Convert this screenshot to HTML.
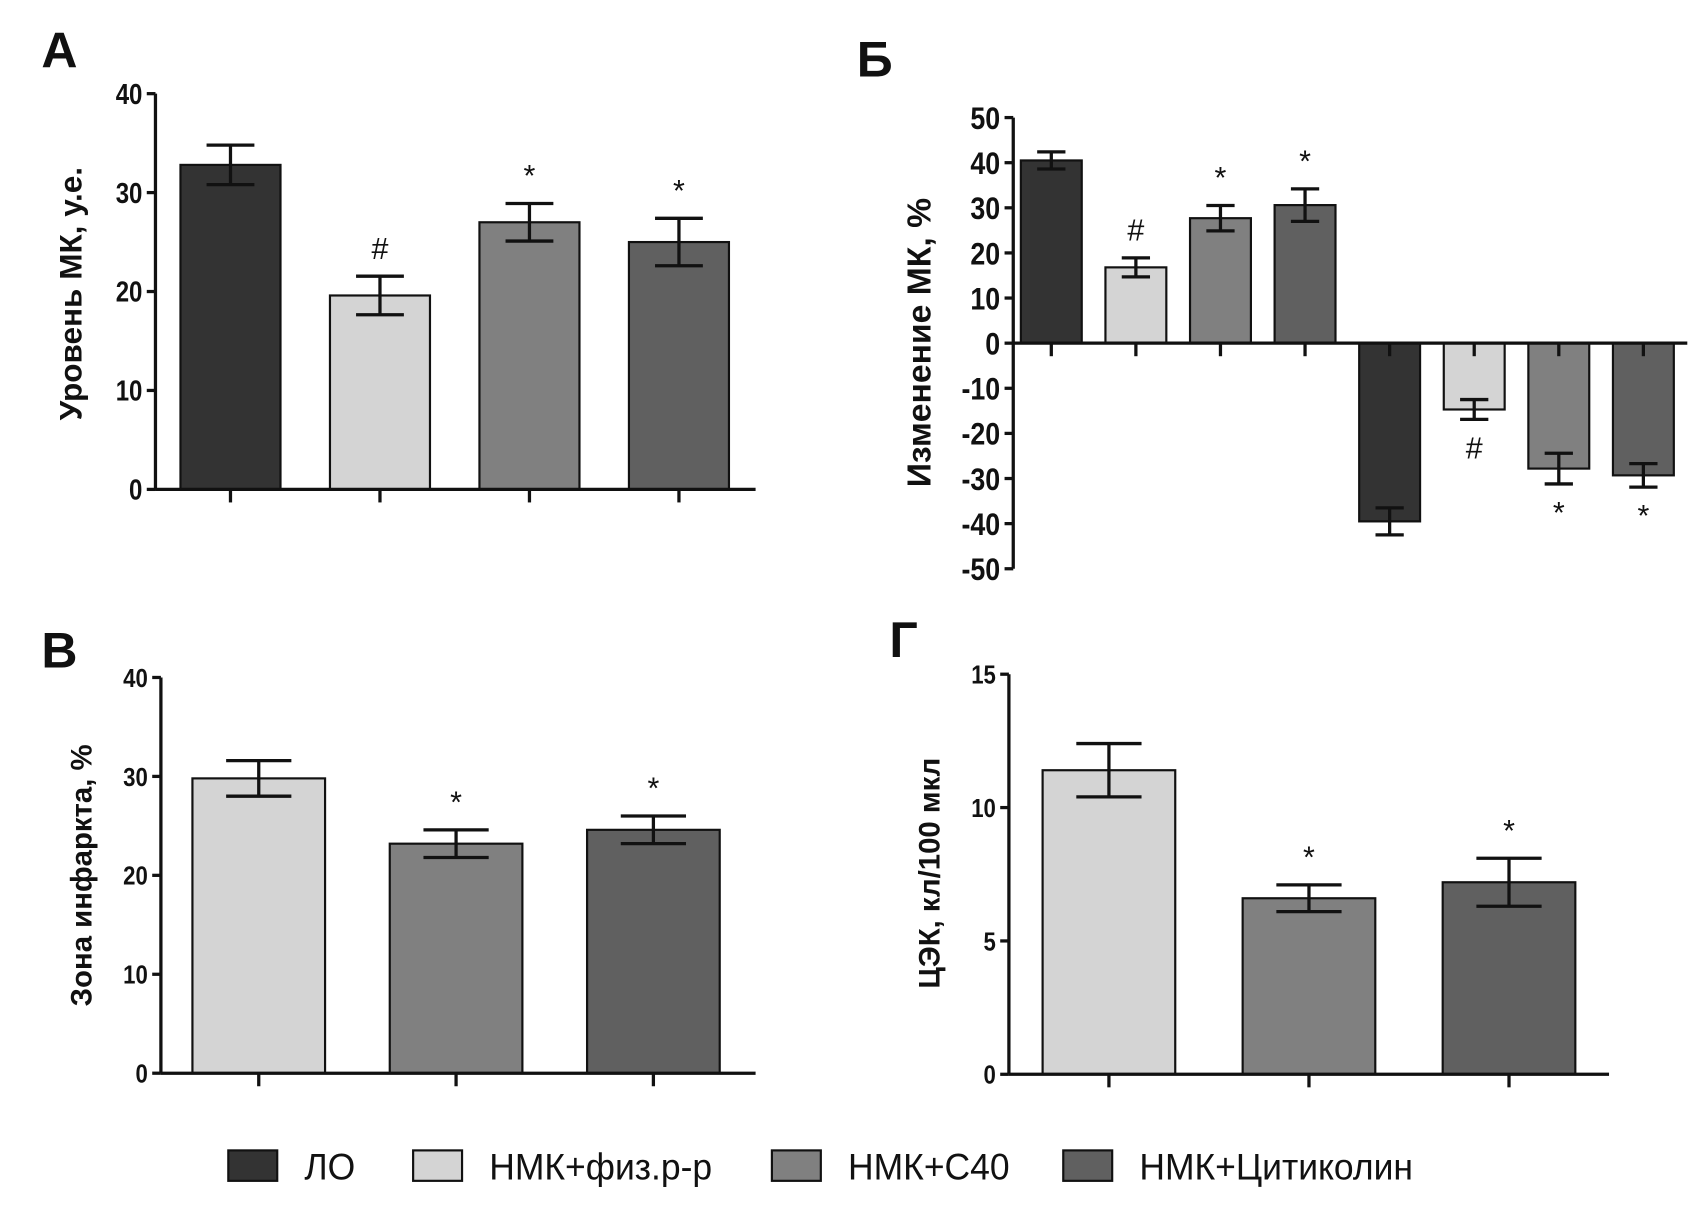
<!DOCTYPE html>
<html><head><meta charset="utf-8"><style>
html,body{margin:0;padding:0;background:#fff}
svg{display:block}
text{font-family:"Liberation Sans",sans-serif;fill:#111}
</style></head><body>
<svg id="fig" width="1696" height="1206" viewBox="0 0 1560 1109" xmlns="http://www.w3.org/2000/svg"></svg>
<script>
const colors = ["#333333","#d4d4d4","#808080","#606060"];
const groupNames = ["ЛО","НМК+физ.р-р","НМК+С40","НМК+Цитиколин"];

const aValues = [32.8, 19.6, 27.0, 25.0];
const aErrors = [2.0, 1.95, 1.9, 2.4];
const aMarks = ["", "#", "*", "*"];
const aTicks = [0, 10, 20, 30, 40];

const bValues = [40.5, 16.8, 27.7, 30.6, -39.5, -14.7, -27.8, -29.3];
const bErrors = [1.9, 2.1, 2.8, 3.6, 3.0, 2.2, 3.4, 2.6];
const bMarks = ["", "#", "*", "*", "", "#", "*", "*"];
const bColorIdx = [0, 1, 2, 3, 0, 1, 2, 3];
const bTicks = [50, 40, 30, 20, 10, 0, -10, -20, -30, -40, -50];

const cValues = [29.8, 23.2, 24.6];
const cErrors = [1.8, 1.4, 1.4];
const cMarks = ["", "*", "*"];
const cColorIdx = [1, 2, 3];
const cTicks = [0, 10, 20, 30, 40];

const dValues = [11.4, 6.6, 7.2];
const dErrors = [1.0, 0.5, 0.9];
const dMarks = ["", "*", "*"];
const dColorIdx = [1, 2, 3];
const dTicks = [0, 5, 10, 15];

const NS = "http://www.w3.org/2000/svg";
const svg = document.getElementById('fig');
function mk(tag, attrs, parent, txt) {
  const e = document.createElementNS(NS, tag);
  for (const k in attrs) e.setAttribute(k, attrs[k]);
  if (txt !== undefined) e.textContent = txt;
  (parent || svg).appendChild(e);
  return e;
}

function panel(o) {
  const g = mk('g', {});
  
  
  const y = v => o.y0 + (v - o.vmin) / (o.vmax - o.vmin) * (o.y1 - o.y0);
  const lab = mk('text', {x: o.lx, y: o.ly, 'font-size': 46, 'font-weight': 'bold'}, g, o.letter);
  
  
  const ya = mk('line', {x1: o.ax, x2: o.ax, y1: y(o.vmax), y2: y(o.vmin), stroke: '#111', 'stroke-width': 3}, g);
  
  
  o.ticks.forEach(t => {
    mk('line', {x1: o.ax - 8, x2: o.ax, y1: y(t), y2: y(t), stroke: '#111', 'stroke-width': 3}, g);
    const tl = mk('text', {x: o.ax - 12, y: y(t) + o.tfs * 0.36, 'font-size': o.tfs, 'font-weight': 'bold', 'text-anchor': 'end', transform: `translate(${o.ax - 12},0) scale(0.85,1) translate(${-(o.ax - 12)},0)`}, g, String(t));
    
    
  });
  const title = mk('text', {x: 0, y: 0, 'font-size': o.titleFs, 'font-weight': 'bold', 'text-anchor': 'middle', transform: `translate(${o.tx},${o.ty}) rotate(-90)`}, g, o.title);
  
  
  o.values.forEach((v, i) => {
    const cx = o.c0 + i * o.step;
    const top = y(Math.max(v, 0)), bot = y(Math.min(v, 0));
    const bar = mk('rect', {x: cx - o.bw / 2, y: top, width: o.bw, height: bot - top, fill: colors[o.cidx[i]], stroke: '#111', 'stroke-width': 2}, g);
    
    
    const e = o.errors[i];
    const eh = y(v + e), el = y(v - e);
    mk('line', {x1: cx, x2: cx, y1: eh, y2: el, stroke: '#111', 'stroke-width': 3}, g);
    mk('line', {x1: cx - o.cap, x2: cx + o.cap, y1: eh, y2: eh, stroke: '#111', 'stroke-width': 3}, g);
    mk('line', {x1: cx - o.cap, x2: cx + o.cap, y1: el, y2: el, stroke: '#111', 'stroke-width': 3}, g);
    mk('line', {x1: cx, x2: cx, y1: y(0), y2: y(0) + 12, stroke: '#111', 'stroke-width': 3}, g);
    if (o.marks[i]) {
      const my = v >= 0 ? y(v + e) - 16 : y(v - e) + 36;
      const m = mk('text', {x: cx, y: my, 'font-size': 28, 'text-anchor': 'middle'}, g, o.marks[i]);
      
      
    }
  });
  const xa = mk('line', {x1: o.ax, x2: o.xend, y1: y(0), y2: y(0), stroke: '#111', 'stroke-width': 3}, g);
  
  
}

panel({name: 'panel-a', letter: 'А', lx: 38, ly: 62, ax: 143, vmin: 0, vmax: 40, y0: 450, y1: 86, ticks: aTicks, tfs: 26,
  title: 'Уровень МК, у.е.', titleFs: 29, tx: 75, ty: 270, values: aValues, errors: aErrors, marks: aMarks, cidx: [0,1,2,3],
  c0: 212, step: 137.5, bw: 92, cap: 22, xend: 695});
panel({name: 'panel-b', letter: 'Б', lx: 788, ly: 70, ax: 932, vmin: -50, vmax: 50, y0: 523, y1: 108, ticks: bTicks, tfs: 29,
  title: 'Изменение МК, %', titleFs: 31, tx: 856, ty: 315, values: bValues, errors: bErrors, marks: bMarks, cidx: bColorIdx,
  c0: 967, step: 77.8, bw: 56, cap: 13, xend: 1552});
panel({name: 'panel-c', letter: 'В', lx: 38, ly: 614, ax: 148, vmin: 0, vmax: 40, y0: 987, y1: 623, ticks: cTicks, tfs: 24,
  title: 'Зона инфаркта, %', titleFs: 27, tx: 84, ty: 805, values: cValues, errors: cErrors, marks: cMarks, cidx: cColorIdx,
  c0: 238, step: 181.5, bw: 122, cap: 30, xend: 695});
panel({name: 'panel-d', letter: 'Г', lx: 818, ly: 604, ax: 928, vmin: 0, vmax: 15, y0: 988, y1: 620, ticks: dTicks, tfs: 24,
  title: 'ЦЭК, кл/100 мкл', titleFs: 27, tx: 864, ty: 803, values: dValues, errors: dErrors, marks: dMarks, cidx: dColorIdx,
  c0: 1020, step: 184, bw: 122, cap: 30, xend: 1480});

const legendX = [210, 380, 710, 978];
const leg = mk('g', {});


groupNames.forEach((n, i) => {
  const sw = mk('rect', {x: legendX[i], y: 1058, width: 45, height: 28, fill: colors[i], stroke: '#111', 'stroke-width': 2}, leg);
  
  
  const t = mk('text', {x: legendX[i] + 70, y: 1085, 'font-size': 34, transform: `translate(${legendX[i] + 70},0) scale(0.96,1) translate(${-(legendX[i] + 70)},0)`}, leg, n);
  
  
});
</script>
</body></html>
